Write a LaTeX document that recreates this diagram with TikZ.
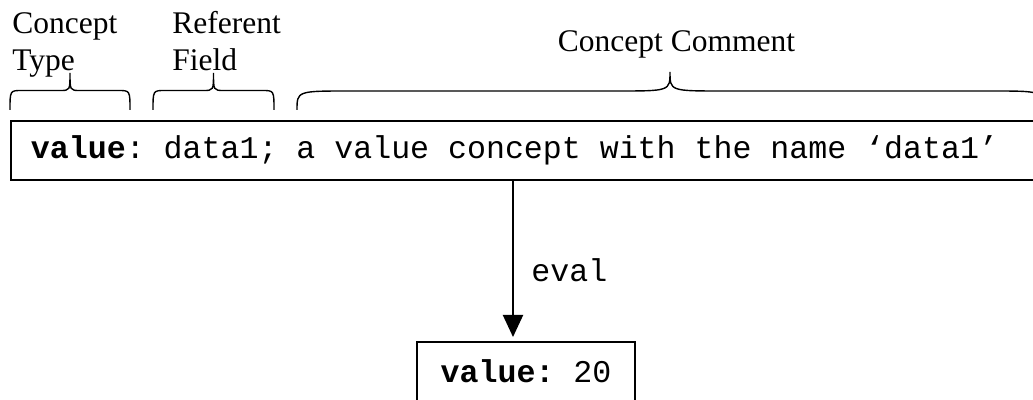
\documentclass[tikz,border=0pt]{standalone}
\usepackage{fontspec}
\setmainfont{Liberation Serif}
\setmonofont{Liberation Mono}
\usetikzlibrary{arrows.meta}
\newcommand\cgmono{\fontsize{15.8}{18.5}\selectfont\ttfamily}

\begin{document}
\begin{tikzpicture}[x=0.5pt, y=-0.5pt,
    box/.style={draw, line width=1pt, font=\cgmono, minimum height=29.5pt},
    lbl/.style={font=\fontsize{15.75}{18.5}\selectfont, align=left, inner sep=0pt},
    brc/.style={line width=0.7pt}]
    \clip (0,0) rectangle (1033,400);
    \node[box, anchor=west, inner xsep=10pt] (concept) at (10,150.5) {\makebox[497.5pt][l]{\textbf{value}: data1; a value concept with the name ‘data1’}};
    \node[box, minimum width=109pt] (result) at (526,371.5) {\textbf{value:} 20};
    \coordinate (evalx) at (513,0);
    \draw[line width=1pt, -{Triangle[width=10pt,length=11pt]}] (concept.south -| evalx) -- ([yshift=2pt]result.north -| evalx);
    \node[anchor=base west, inner sep=0pt, font=\cgmono] (evallbl) at (531,282) {eval};
    % braces
    \draw[brc] (10,110) .. controls (10,90.5) .. (22,90.5) -- (60,90.5) .. controls (70,90.5) .. (70,73) .. controls (70,90.5) .. (80,90.5) -- (118,90.5) .. controls (130,90.5) .. (130,110);
    \draw[brc] (153,110) .. controls (153,90.5) .. (165,90.5) -- (203,90.5) .. controls (213.5,90.5) .. (213.5,73) .. controls (213.5,90.5) .. (224,90.5) -- (262,90.5) .. controls (274,90.5) .. (274,110);
    \draw[brc] (297,110) .. controls (297,91) .. (350,91) -- (617,91) .. controls (670,91) .. (670,72) .. controls (670,91) .. (723,91) -- (990,91) .. controls (1043,91) .. (1043,110);
    \node[lbl, anchor=base west] (typelbl) at (12,70.5) {Concept\\Type};
    \node[lbl, anchor=base west] (fieldlbl) at (172,70.5) {Referent\\Field};
    \node[lbl, anchor=base] (commentlbl) at (676.5,51.5) {Concept Comment};
\end{tikzpicture}
\end{document}
